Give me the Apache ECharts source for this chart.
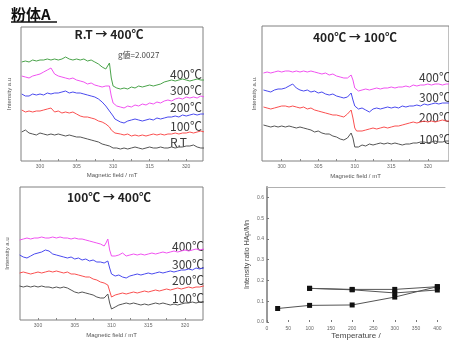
<!DOCTYPE html>
<html>
<head>
<meta charset="utf-8">
<style>
  html, body { margin: 0; padding: 0; background: #fff; }
  #main { width: 449px; height: 342px; }
</style>
<script src="https://cdn.jsdelivr.net/npm/echarts@6.0.0/dist/echarts.min.js"></script>
</head>
<body>
<div id="main"></div>
<script>
// magnetic field sampling (mT), shared by the three EPR panels
var field = [297.5, 298, 298.5, 299, 299.5, 300, 300.5, 301, 301.5, 302, 302.5, 303, 303.5, 304, 304.5,
  305, 305.5, 306, 306.5, 307, 307.5, 308, 308.5, 309, 309.25, 309.5, 309.75, 310, 310.25, 310.5,
  311, 311.5, 312, 312.5, 313, 313.5, 314, 314.5, 315, 315.5, 316, 316.5, 317, 317.5, 318, 318.5,
  319, 319.5, 320, 320.5, 321, 321.5, 322, 322.5, 323];
var fieldTicks = [300, 305, 310, 315, 320];
var fieldMinor = [300, 302.5, 305, 307.5, 310, 312.5, 315, 317.5, 320];

// R.T -> 400℃ (a.u.)
var heat400 = [99,100,99,101,100, 101,101,102,101,102, 101,102,104,102,101, 102,101,102,100,101,
  99,97,94,92,95, 98,83,75,74,73, 72,73,72,74,73, 75,74,75,76,75, 76,77,79,80,81, 80,81,82,81,80, 81,82,81,81,81];
var heat300 = [85,84,83,85,86, 87,89,91,93,87, 85,84,83,82,83, 81,80,79,77,78,
  76,75,74,75,74, 75,65,58,57,55, 54,53,55,54,56, 55,57,56,58,57, 59,58,60,61,60, 62,63,62,64,63, 64,63,65,64,64];
var heat200 = [67,65,65,67,66, 67,66,68,67,68, 68,69,70,68,69, 68,68,67,66,65,
  64,62,59,55,53, 50,48,45,42,40, 39,38,40,41,42, 41,40,41,42,41, 43,42,43,44,44, 45,44,46,45,46, 47,46,47,47,47];
var heat100 = [51,49,50,49,50, 50,51,52,53,49, 50,48,49,48,49, 47,45,44,44,43,
  42,40,39,37,36, 34,31,29,28,28, 27,26,27,25,26, 25,26,25,26,27, 26,27,26,27,27, 28,27,28,28,29, 28,29,30,29,29];
var heatRT = [29,31,28,27,26, 28,27,26,27,26, 27,26,25,26,25, 24,24,23,22,21,
  20,19,17,16,15, 15,14,13,13,13, 12,13,12,13,14, 13,12,13,14,13, 13,14,13,13,14, 13,14,14,15,15, 16,14,13,13,13];

// 400℃ -> 100℃
var cool400 = [88,89,88,89,90, 89,90,90,89,90, 89,90,89,90,89, 88,87,88,86,87,
  85,84,83,83,85, 86,81,73,71,70, 71,72,71,72,73, 72,73,73,74,73, 74,74,75,74,76, 75,76,76,77,76, 77,77,76,77,77];
var cool300 = [71,70,69,71,72, 72,73,75,77,73, 71,70,71,69,70, 68,69,67,66,67,
  65,64,63,64,65, 68,61,55,53,52, 53,51,49,52,53, 52,53,54,53,54, 53,55,54,55,55, 56,55,57,56,57, 58,57,58,58,58];
var cool200 = [54,53,52,53,54, 55,55,54,55,54, 53,54,52,53,51, 50,49,48,47,46,
  46,45,44,47,49, 51,43,33,30,29, 30,31,32,33,32, 33,34,33,34,35, 35,36,37,38,39, 38,39,40,39,40, 39,40,41,40,40];
var cool100 = [36,35,34,35,34, 35,34,35,34,33, 34,33,32,31,29, 30,28,27,27,25,
  24,22,21,23,25, 28,23,14,12,14, 16,15,17,16,17, 18,17,18,17,18, 17,16,17,17,18, 18,19,19,18,19, 20,19,19,20,20];

// 100℃ -> 400℃
var reheat400 = [80,81,82,81,82, 82,83,82,82,83, 82,83,82,82,81, 82,81,81,80,79,
  78,77,76,74,77, 81,70,64,63,64, 65,67,64,65,66, 65,66,65,66,67, 66,67,68,67,68, 69,68,69,70,69, 70,71,70,71,71];
var reheat300 = [65,63,62,64,66, 67,68,70,69,66, 65,64,63,62,63, 61,62,60,61,59,
  60,58,58,57,57, 59,52,46,45,44, 45,43,42,44,45, 46,45,46,47,46, 47,48,47,48,49, 48,49,50,50,51, 50,52,51,52,52];
var reheat200 = [47,48,47,46,47, 48,47,48,49,48, 49,48,47,48,46, 46,45,44,43,43,
  41,40,38,37,36, 35,29,23,24,25, 26,27,26,27,28, 27,28,29,28,29, 30,29,30,31,30, 31,32,31,32,33, 32,33,33,34,34];
var reheat100 = [34,33,34,33,34, 33,34,33,33,32, 33,32,33,32,30, 28,27,28,27,26,
  25,23,22,22,24, 26,17,11,12,13, 15,16,17,16,17, 16,15,16,15,16, 17,16,17,16,15, 16,15,16,17,17, 18,17,18,18,18];

// intensity ratio vs temperature
var tempA = [25, 100, 200, 300, 400];
var ratioA = [0.065, 0.08, 0.082, 0.12, 0.17];
var tempB = [100, 200, 300, 400];
var ratioB = [0.162, 0.157, 0.157, 0.17];
var ratioC = [0.162, 0.155, 0.14, 0.154];
var tempTicks = [0, 50, 100, 150, 200, 250, 300, 350, 400];
var ratioTicks = [0, 0.1, 0.2, 0.3, 0.4, 0.5, 0.6];

var GREEN = '#4aa34a', MAGENTA = '#f052f0', BLUE = '#4a4aee', RED = '#fa5050', BLACK = '#555';
var tickFont = 'Liberation Sans';
var cjk = '"Noto Sans CJK JP"';

function pairs(ys) {
  return field.map(function (x, i) { return [x, ys[i]]; });
}
function xyPairs(xs, ys) {
  return xs.map(function (x, i) { return [x, ys[i]]; });
}
function spec(name, grid, ys, color) {
  return {
    name: name, type: 'line', xAxisIndex: grid, yAxisIndex: grid,
    data: pairs(ys), showSymbol: false, symbol: 'none',
    lineStyle: { color: color, width: 1 }, clip: true, silent: true
  };
}
function fieldAxis(grid, min, max, gap) {
  return {
    type: 'value', gridIndex: grid, min: min, max: max,
    axisLine: { show: false },
    splitLine: { show: false },
    axisTick: { inside: true, length: 2, customValues: fieldMinor, lineStyle: { color: '#888' } },
    axisLabel: { customValues: fieldTicks, fontSize: 5, color: '#666', margin: 3, fontFamily: tickFont },
    name: 'Magnetic field / mT', nameLocation: 'middle', nameGap: gap,
    nameTextStyle: { fontSize: 6, color: '#555', fontFamily: tickFont }
  };
}
function intensityAxis(grid, max, name, gap) {
  return {
    type: 'value', gridIndex: grid, min: 0, max: max,
    axisLine: { show: false }, axisTick: { show: false },
    axisLabel: { show: false }, splitLine: { show: false },
    name: name, nameLocation: 'middle', nameGap: gap,
    nameTextStyle: { fontSize: 6, color: '#555', fontFamily: tickFont }
  };
}
function label(txt, x, y) {
  return { type: 'text', x: x, y: y, style: { text: txt, fill: '#3a3a3a', font: '12px ' + cjk, verticalAlign: 'middle' } };
}
function title(txt, cx, y) {
  return { type: 'text', x: cx, y: y, style: { text: txt, fill: '#222', font: 'bold 12px ' + cjk, align: 'center', verticalAlign: 'middle' } };
}

var chart = echarts.init(document.getElementById('main'), null, { renderer: 'canvas' });
var frame = { show: true, borderColor: '#808080', borderWidth: 1, backgroundColor: 'transparent' };

chart.setOption({
  animation: false,
  backgroundColor: '#fff',
  grid: [
    Object.assign({ left: 21, top: 27, width: 182, height: 134 }, frame),
    Object.assign({ left: 262, top: 26, width: 188, height: 135 }, frame),
    Object.assign({ left: 20, top: 187, width: 183, height: 133 }, frame),
    { left: 267, top: 187, width: 178, height: 135, show: false }
  ],
  xAxis: [
    fieldAxis(0, 297.4, 322.3, 11),
    fieldAxis(1, 297.3, 322.9, 12),
    fieldAxis(2, 297.55, 322.45, 12),
    {
      type: 'value', gridIndex: 3, min: 0, max: 418,
      axisLine: { show: false }, splitLine: { show: false },
      axisTick: { inside: true, length: 2, customValues: tempTicks, lineStyle: { color: '#777' } },
      axisLabel: { customValues: tempTicks, fontSize: 5, color: '#666', margin: 4, fontFamily: tickFont },
      name: 'Temperature /', nameLocation: 'middle', nameGap: 10,
      nameTextStyle: { fontSize: 8, color: '#444', fontFamily: tickFont }
    },
    {
      type: 'value', gridIndex: 3, position: 'top', min: 0, max: 418,
      axisLine: { show: true, lineStyle: { color: '#b0b0b0', width: 1 } },
      axisTick: { show: false }, axisLabel: { show: false }, splitLine: { show: false }
    }
  ],
  yAxis: [
    intensityAxis(0, 134, 'Intensity a.u', 9),
    intensityAxis(1, 135, 'Intensity a.u.', 5),
    intensityAxis(2, 133, 'Intensity a.u', 10),
    {
      type: 'value', gridIndex: 3, min: 0, max: 0.65,
      axisLine: { show: true, lineStyle: { color: '#9a9a9a', width: 2 } },
      splitLine: { show: false },
      axisTick: { inside: true, length: 2, customValues: ratioTicks, lineStyle: { color: '#777' } },
      axisLabel: {
        customValues: ratioTicks, fontSize: 5, color: '#666', margin: 3, fontFamily: tickFont,
        formatter: function (v) { return v.toFixed(1); }
      },
      name: 'Intensity ratio HAp/Mn', nameLocation: 'middle', nameGap: 16,
      nameTextStyle: { fontSize: 7, color: '#444', fontFamily: tickFont }
    }
  ],
  series: [
    spec('R.T→400 400', 0, heat400, GREEN),
    spec('R.T→400 300', 0, heat300, MAGENTA),
    spec('R.T→400 200', 0, heat200, BLUE),
    spec('R.T→400 100', 0, heat100, RED),
    spec('R.T→400 RT', 0, heatRT, BLACK),
    spec('400→100 400', 1, cool400, MAGENTA),
    spec('400→100 300', 1, cool300, BLUE),
    spec('400→100 200', 1, cool200, RED),
    spec('400→100 100', 1, cool100, BLACK),
    spec('100→400 400', 2, reheat400, MAGENTA),
    spec('100→400 300', 2, reheat300, BLUE),
    spec('100→400 200', 2, reheat200, RED),
    spec('100→400 100', 2, reheat100, BLACK),
    {
      type: 'line', xAxisIndex: 3, yAxisIndex: 3, data: xyPairs(tempA, ratioA),
      symbol: 'rect', symbolSize: 5, itemStyle: { color: '#111' },
      lineStyle: { color: '#555', width: 1 }
    },
    {
      type: 'line', xAxisIndex: 3, yAxisIndex: 3, data: xyPairs(tempB, ratioB),
      symbol: 'rect', symbolSize: 5, itemStyle: { color: '#111' },
      lineStyle: { color: '#555', width: 1 }
    },
    {
      type: 'line', xAxisIndex: 3, yAxisIndex: 3, data: xyPairs(tempB, ratioC),
      symbol: 'rect', symbolSize: 5, itemStyle: { color: '#111' },
      lineStyle: { color: '#555', width: 1 }
    }
  ],
  graphic: [
    { type: 'text', x: 11, y: 14, style: { text: '粉体A', fill: '#111', font: 'bold 15px ' + cjk, verticalAlign: 'middle' } },
    { type: 'line', shape: { x1: 11, y1: 22, x2: 57, y2: 22 }, style: { stroke: '#111', lineWidth: 1.5 } },
    title('R.T → 400℃', 109, 34),
    { type: 'text', x: 118, y: 55, style: { text: 'g値=2.0027', fill: '#444', font: '8px ' + cjk, verticalAlign: 'middle' } },
    label('400℃', 170, 74),
    label('300℃', 170, 90),
    label('200℃', 170, 107),
    label('100℃', 170, 126),
    label('R.T', 170, 142),
    title('400℃ → 100℃', 355, 37),
    label('400℃', 419, 77),
    label('300℃', 419, 97),
    label('200℃', 419, 117),
    label('100℃', 419, 139),
    title('100℃ → 400℃', 109, 197),
    label('400℃', 172, 246),
    label('300℃', 172, 264),
    label('200℃', 172, 280),
    label('100℃', 172, 298)
  ]
});
</script>
</body>
</html>
